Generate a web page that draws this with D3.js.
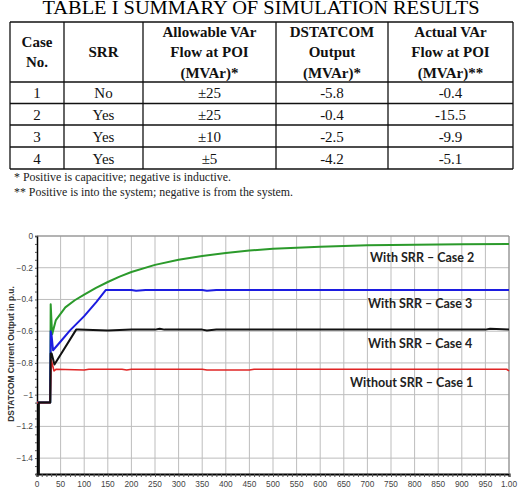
<!DOCTYPE html>
<html>
<head>
<meta charset="utf-8">
<script src="https://cdn.jsdelivr.net/npm/d3@7"></script>
<style>
  body { margin: 0; background: #fff; }
  svg { display: block; }
</style>
</head>
<body>
<svg id="fig" width="520" height="488"></svg>
<script>
// ---- table data ----
const tableTitle = 'TABLE I SUMMARY OF SIMULATION RESULTS';
const headers = [
  ['Case', 'No.'],
  ['SRR'],
  ['Allowable VAr', 'Flow at POI', '(MVAr)*'],
  ['DSTATCOM', 'Output', '(MVAr)*'],
  ['Actual VAr', 'Flow at POI', '(MVAr)**']
];
const rows = [
  ['1', 'No',  '±25', '-5.8', '-0.4'],
  ['2', 'Yes', '±25', '-0.4', '-15.5'],
  ['3', 'Yes', '±10', '-2.5', '-9.9'],
  ['4', 'Yes', '±5',  '-4.2', '-5.1']
];
const footnotes = [
  '* Positive is capacitive; negative is inductive.',
  '** Positive is into the system; negative is from the system.'
];

// ---- chart data ----
const xTicks = d3.range(0, 1001, 50);
const xTickLabels = xTicks.map(d => d === 1000 ? '1.00' : String(d));
const yTicks = [0, -0.2, -0.4, -0.6, -0.8, -1, -1.2, -1.4];
const yLabel = 'DSTATCOM Current Output in p.u.';

const case1 = [[0, -1.05], [28, -1.05], [30, -0.78], [36, -0.85], [40, -0.84], [100, -0.845], [110, -0.84],
  [180, -0.84], [190, -0.845], [200, -0.84], [350, -0.84], [360, -0.845], [450, -0.845], [460, -0.84], [995, -0.84], [1000, -0.85]];
const case2 = [[0, -1.05], [28, -1.05], [29, -0.43], [32, -0.62], [40, -0.53], [60, -0.45], [80, -0.405], [100, -0.37],
  [125, -0.327], [150, -0.29], [175, -0.256], [200, -0.227], [250, -0.182], [300, -0.15], [350, -0.126], [400, -0.107],
  [450, -0.092], [500, -0.08], [600, -0.067], [700, -0.059], [800, -0.055], [900, -0.052], [1000, -0.05]];
const case3 = [[0, -1.05], [28, -1.05], [29, -0.6], [31, -0.63], [34, -0.72], [50, -0.665], [70, -0.595], [100, -0.505],
  [126, -0.415], [146, -0.34], [200, -0.34], [210, -0.345], [230, -0.34], [350, -0.34], [360, -0.345], [380, -0.34], [1000, -0.34]];
const case4 = [[0, -1.5], [4, -1.5], [4, -1.05], [28, -1.05], [29, -0.74], [31, -0.74], [37, -0.81], [83, -0.59],
  [88, -0.59], [150, -0.595], [200, -0.59], [250, -0.59], [260, -0.585], [270, -0.59], [350, -0.59], [360, -0.595],
  [380, -0.59], [950, -0.59], [960, -0.585], [1000, -0.59]];

const series = [
  { name: 'Without SRR – Case 1', values: case1, color: '#e02424', width: 1.6, label: [350, 382] },
  { name: 'With SRR – Case 2',    values: case2, color: '#2b9a2b', width: 2,   label: [370, 257] },
  { name: 'With SRR – Case 3',    values: case3, color: '#1c1ce0', width: 2,   label: [368, 303] },
  { name: 'With SRR – Case 4',    values: case4, color: '#111111', width: 2,   label: [368, 343] }
];

const svg = d3.select('#fig');

// ---- table ----
svg.append('text')
  .attr('x', 261).attr('y', 14)
  .attr('text-anchor', 'middle')
  .attr('font-family', 'Liberation Serif, serif')
  .attr('font-size', 18)
  .attr('textLength', 437)
  .attr('lengthAdjust', 'spacingAndGlyphs')
  .text(tableTitle);

const colX = [10, 64, 143, 276, 388, 513];
const rowY = [22, 82, 103.5, 125, 147, 169];
const tbl = svg.append('g');

tbl.selectAll('line.v').data(colX).join('line')
  .attr('x1', d => d).attr('x2', d => d)
  .attr('y1', rowY[0]).attr('y2', rowY[rowY.length - 1])
  .attr('stroke', '#111').attr('stroke-width', 1.3);
tbl.selectAll('line.h').data(rowY).join('line')
  .attr('x1', colX[0]).attr('x2', colX[colX.length - 1])
  .attr('y1', d => d).attr('y2', d => d)
  .attr('stroke', '#111').attr('stroke-width', 1.3);

headers.forEach((lines, i) => {
  const cx = (colX[i] + colX[i + 1]) / 2;
  const mid = (rowY[0] + rowY[1]) / 2;
  const lh = 20.5;
  lines.forEach((t, j) => {
    tbl.append('text')
      .attr('x', cx)
      .attr('y', mid + (j - (lines.length - 1) / 2) * lh + 5)
      .attr('text-anchor', 'middle')
      .attr('font-family', 'Liberation Serif, serif')
      .attr('font-weight', 'bold')
      .attr('font-size', 15)
      .attr('fill', '#111')
      .text(t);
  });
});

rows.forEach((r, ri) => {
  const cy = (rowY[ri + 1] + rowY[ri + 2]) / 2;
  r.forEach((t, ci) => {
    tbl.append('text')
      .attr('x', (colX[ci] + colX[ci + 1]) / 2)
      .attr('y', cy + 5.5)
      .attr('text-anchor', 'middle')
      .attr('font-family', 'Liberation Serif, serif')
      .attr('font-size', 15)
      .attr('fill', '#111')
      .text(t);
  });
});

footnotes.forEach((t, i) => {
  tbl.append('text')
    .attr('x', 14).attr('y', 180.5 + i * 15)
    .attr('font-family', 'Liberation Serif, serif')
    .attr('font-size', 11.9)
    .attr('fill', '#222')
    .text(t);
});

// ---- chart ----
const x = d3.scaleLinear().domain([0, 1000]).range([37, 509]);
const y = d3.scaleLinear().domain([-1.5, 0]).range([474, 236]);

const chart = svg.append('g');

// grid
chart.selectAll('line.gx').data(xTicks.slice(1)).join('line')
  .attr('x1', d => x(d)).attr('x2', d => x(d))
  .attr('y1', y(0)).attr('y2', y(-1.5))
  .attr('stroke', '#bdbdbd').attr('stroke-width', 1);
chart.selectAll('line.gy').data(yTicks).join('line')
  .attr('x1', x(0)).attr('x2', x(1000))
  .attr('y1', d => y(d)).attr('y2', d => y(d))
  .attr('stroke', '#bdbdbd').attr('stroke-width', 1);

// axes
const xAxis = chart.append('g')
  .attr('transform', `translate(0,${y(-1.5)})`)
  .call(d3.axisBottom(x).tickValues(d3.range(0, 1001, 10)).tickSize(3).tickFormat(''));
xAxis.select('.domain').attr('stroke', '#000').attr('stroke-width', 2);
xAxis.selectAll('.tick line').attr('stroke', '#555');

chart.selectAll('text.xt').data(xTicks).join('text')
  .attr('x', d => x(d)).attr('y', 487)
  .attr('text-anchor', 'middle')
  .attr('font-family', 'Liberation Sans, Arial, sans-serif')
  .attr('font-size', 8.3)
  .attr('fill', '#444')
  .text((d, i) => xTickLabels[i]);

const yAxis = chart.append('g')
  .attr('transform', `translate(${x(0)},0)`)
  .call(d3.axisLeft(y).tickValues(d3.range(-1.5, 0.001, 0.05)).tickSize(2).tickFormat(''));
yAxis.select('.domain').attr('stroke', '#000').attr('stroke-width', 1.5);
yAxis.selectAll('.tick line').attr('stroke', '#555');

chart.selectAll('text.yt').data(yTicks).join('text')
  .attr('x', 33).attr('y', d => y(d) + 3)
  .attr('text-anchor', 'end')
  .attr('font-family', 'Liberation Sans, Arial, sans-serif')
  .attr('font-size', 8.3)
  .attr('fill', '#444')
  .text(d => d === 0 ? '0' : d3.format('')(d));

chart.append('text')
  .attr('transform', 'translate(14,354) rotate(-90)')
  .attr('text-anchor', 'middle')
  .attr('font-family', 'Liberation Sans, Arial, sans-serif')
  .attr('font-weight', 'bold')
  .attr('font-size', 8.4)
  .attr('fill', '#333')
  .text(yLabel);

// plot frame (top/right)
chart.append('path')
  .attr('d', `M${x(0)},${y(0)}H${x(1000)}V${y(-1.5)}`)
  .attr('fill', 'none').attr('stroke', '#888').attr('stroke-width', 1);

const line = d3.line().x(d => x(d[0])).y(d => y(d[1]));
const order = [1, 2, 0, 3];
order.forEach(i => {
  const s = series[i];
  chart.append('path')
    .datum(s.values)
    .attr('d', line)
    .attr('fill', 'none')
    .attr('stroke', s.color)
    .attr('stroke-width', s.width)
    .attr('stroke-linejoin', 'round');
});

chart.selectAll('text.lbl').data(series).join('text')
  .attr('x', d => d.label[0]).attr('y', d => d.label[1] + 4.5)
  .attr('font-family', 'Lato, sans-serif')
  .attr('font-weight', 'bold')
  .attr('font-size', 12.5)
  .attr('fill', '#222')
  .text(d => d.name);
</script>
</body>
</html>
